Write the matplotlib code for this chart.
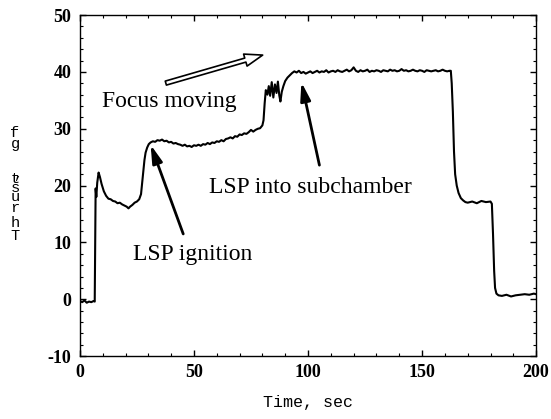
import matplotlib.pyplot as plt
from matplotlib.patches import FancyArrowPatch
from matplotlib.ticker import MultipleLocator

plt.rcParams['axes.unicode_minus'] = False

# thrust trace, piece by piece
t_off = [0, 1, 2, 3, 4, 5, 6, 6.5]
y_off = [-0.3, -0.5, -0.2, -0.6, -0.4, -0.5, -0.3, -0.4]

t_step = [6.7, 6.9, 7.2, 7.6, 8.2, 8.8, 9.5, 10.5, 11.5, 12.5,
          13.5, 14.5, 15.5, 16.5, 17.5, 18.5, 19.5, 20.5, 21.3, 22,
          23, 24, 25, 26]
y_step = [10.0, 19.5, 18.0, 20.5, 22.3, 21.5, 20.3, 19.0, 18.2, 17.7,
          17.6, 17.3, 17.2, 16.9, 17.0, 16.7, 16.5, 16.3, 16.0, 16.3,
          16.6, 17.0, 17.2, 17.6]

t_lsp = [26.8, 27.3, 27.8, 28.3, 28.8, 29.5, 30.2,
         31, 32, 33, 34, 35, 36, 37, 38, 39, 40,
         41, 42, 43, 44, 45, 46, 47, 48, 49, 50,
         51, 52, 53, 54, 55, 56, 57, 58, 59, 60,
         61, 62, 63, 64, 65, 66, 67, 68, 69, 70,
         71, 72, 73, 74, 75, 76, 77, 78, 79, 80]
y_lsp = [18.5, 20.5, 22.5, 24.5, 25.8, 26.7, 27.3,
         27.6, 27.8, 27.7, 28.0, 27.9, 28.1, 27.8, 27.9, 27.6, 27.7,
         27.4, 27.5, 27.3, 27.2, 27.0, 27.2, 26.9, 27.0, 26.8, 27.1,
         27.0, 27.2, 27.0, 27.3, 27.2, 27.5, 27.3, 27.6, 27.5, 27.8,
         27.7, 28.0, 27.8, 28.2, 28.3, 28.5, 28.3, 28.7, 28.6, 29.0,
         28.9, 29.2, 29.1, 29.4, 29.8, 29.5, 29.8, 30.0, 30.1, 30.6]

t_osc = [80.5, 81, 81.5, 82.2, 82.8, 83.4, 84.1, 84.8, 85.5, 86.2,
         86.8, 87.4, 87.9, 88.5, 89.2, 90, 91, 92, 93, 94]
y_osc = [31.5, 34.5, 36.8, 36.0, 37.5, 35.8, 38.2, 35.5, 37.8, 36.3,
         38.3, 35.9, 34.8, 36.5, 37.5, 38.4, 39.0, 39.4, 39.8, 40.1]

t_sub = [95, 96, 97, 98, 99, 100, 101, 102, 103, 104,
         105, 106, 107, 108, 109, 110, 111, 112, 113, 114,
         115, 116, 117, 118, 119, 120, 121, 122, 123, 124,
         125, 126, 127, 128, 129, 130, 131, 132, 133, 134,
         135, 136, 137, 138, 139, 140, 141, 142, 143, 144,
         145, 146, 147, 148, 149, 150, 151, 152, 153, 154,
         155, 156, 157, 158, 159, 160, 161, 162]
y_sub = [39.9, 40.2, 39.8, 40.0, 39.7, 39.9, 40.1, 39.8, 40.0, 40.2,
         39.9, 40.1, 40.0, 40.3, 39.9, 40.1, 40.2, 40.0, 40.3, 40.1,
         40.0, 40.2, 40.4, 40.1, 40.3, 40.8, 40.2, 40.0, 40.3, 40.1,
         40.2, 40.4, 40.0, 40.2, 40.1, 40.3, 40.2, 40.0, 40.3, 40.2,
         40.1, 40.4, 40.2, 40.3, 40.1, 40.2, 40.5, 40.2, 40.3, 40.1,
         40.2, 40.4, 40.2, 40.1, 40.3, 40.2, 40.0, 40.3, 40.2, 40.1,
         40.2, 40.3, 40.1, 40.2, 40.4, 40.2, 40.1, 40.2]

t_down = [162.6, 163, 163.5, 164, 164.5, 165.2, 166, 167, 168, 169,
          170, 172, 174, 176, 178, 180, 180.6]
y_down = [40.2, 38.0, 33.0, 26.0, 22.0, 20.0, 18.7, 17.8, 17.4, 17.1,
          17.0, 17.2, 16.9, 17.3, 17.1, 17.2, 16.8]

t_end = [181.1, 181.6, 182, 182.6, 183.5, 185, 187, 189, 191, 193,
         195, 197, 199, 200]
y_end = [11.5, 5.0, 2.0, 1.0, 0.7, 0.6, 0.8, 0.5, 0.7, 0.8,
         0.9, 0.8, 1.0, 0.9]

time = t_off + t_step + t_lsp + t_osc + t_sub + t_down + t_end
thrust = y_off + y_step + y_lsp + y_osc + y_sub + y_down + y_end

xticks = [0, 50, 100, 150, 200]
yticks = [-10, 0, 10, 20, 30, 40, 50]

serif = 'Liberation Serif'
mono = 'Liberation Mono'

W, H = 551, 419
fig = plt.figure(figsize=(W / 100, H / 100), dpi=100)
ax = fig.add_axes([0.145, 0.150, 0.828, 0.814])
ax.plot(time, thrust, color='black', lw=1.5)

ax.set_xlim(0, 200)
ax.set_ylim(-10, 50)
ax.set_xticks(xticks)
ax.set_yticks(yticks)
ax.xaxis.set_minor_locator(MultipleLocator(10))
ax.yaxis.set_minor_locator(MultipleLocator(2))
ax.tick_params(which='both', direction='in', top=True, right=True)
ax.tick_params(which='major', length=4, width=1, pad=6)
ax.tick_params(which='minor', length=2.2, width=0.8)
for lab in ax.get_xticklabels() + ax.get_yticklabels():
    lab.set_fontfamily(serif)
    lab.set_fontweight('bold')
    lab.set_fontsize(13)
for sp in ax.spines.values():
    sp.set_linewidth(1)

ax.set_xlabel('Time, sec', family=mono, fontsize=12, labelpad=10)

# y label: upright letters stacked bottom to top, as in the original
ylab = 'Thrust, gf'
baselines_px = [240, 227, 212, 201, 192, 183, 178, 160, 148, 137]
xs_px = [15, 15, 15, 15, 15, 15, 18, 15, 15, 15]
for ch, bx, by in zip(ylab, xs_px, baselines_px):
    fig.text(bx / W, 1 - by / H, ch, family=mono, fontsize=11,
             ha='center', va='baseline')

ax.text(9.5, 33.75, 'Focus moving', family=serif, fontsize=17)
ax.text(56.4, 18.7, 'LSP into subchamber', family=serif, fontsize=17)
ax.text(23.3, 7.0, 'LSP ignition', family=serif, fontsize=17)

arrow_kw = dict(arrowstyle='-|>,head_length=0.9,head_width=0.25', color='black',
                lw=2, mutation_scale=12, shrinkA=0, shrinkB=0)
ax.annotate('', xy=(31.0, 27.2), xytext=(45.3, 11.5), arrowprops=arrow_kw)
ax.annotate('', xy=(97.1, 38.2), xytext=(105.0, 23.6), arrowprops=arrow_kw)

focus = FancyArrowPatch((36.5, 37.9), (81.3, 43.1),
                        arrowstyle='simple,head_length=1.3,head_width=0.9,tail_width=0.3',
                        mutation_scale=10, fc='white', ec='black', lw=1.2)
ax.add_patch(focus)

fig.savefig('out.png', dpi=100)
